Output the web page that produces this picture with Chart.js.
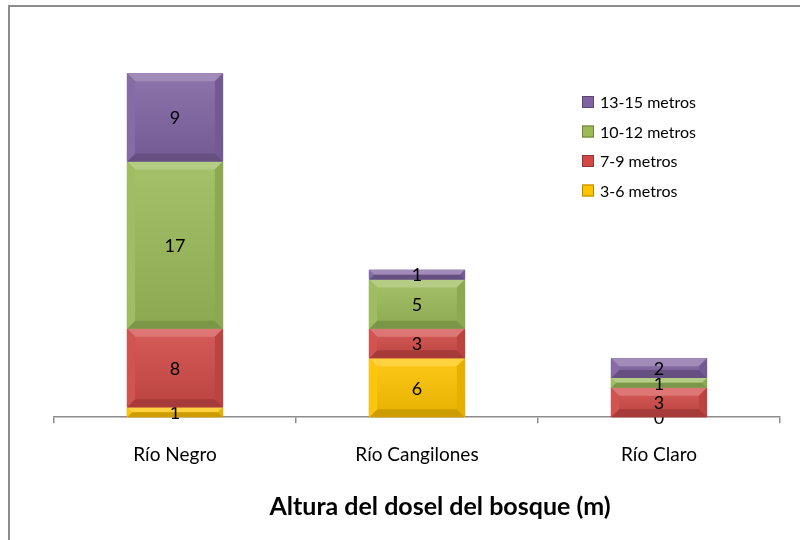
<!DOCTYPE html>
<html>
<head>
<meta charset="utf-8">
<script src="https://cdn.jsdelivr.net/npm/chart.js@4"></script>
<style>
  html, body { margin: 0; padding: 0; background: #fff; }
  #wrap { width: 800px; height: 540px; }
</style>
</head>
<body>
<div id="wrap"><canvas id="alturaChart" width="800" height="540"></canvas></div>
<script>
// Chart data
const categories = ['Río Negro', 'Río Cangilones', 'Río Claro'];
const seriesLabels = ['3-6 metros', '7-9 metros', '10-12 metros', '13-15 metros'];
const altura3a6 = [1, 6, 0];
const altura7a9 = [8, 3, 3];
const altura10a12 = [17, 5, 1];
const altura13a15 = [9, 1, 2];
const axisTitle = 'Altura del dosel del bosque (m)';

const seriesColors = ['#FFC300', '#D04A47', '#9BBB59', '#8064A2'];
const FONT = 'Lato, "Open Sans", sans-serif';

// Shade a hex colour (positive = lighter, negative = darker)
function shade(hex, amt) {
  const n = parseInt(hex.slice(1), 16);
  let r = n >> 16, g = (n >> 8) & 255, b = n & 255;
  const f = c => Math.max(0, Math.min(255, Math.round(amt > 0 ? c + (255 - c) * amt : c * (1 + amt))));
  return `rgb(${f(r)},${f(g)},${f(b)})`;
}

// Bevel effect + value labels on each segment
const segmentPlugin = {
  id: 'segments',
  afterDatasetsDraw(chart) {
    const ctx = chart.ctx;
    chart.data.datasets.forEach((ds, di) => {
      const meta = chart.getDatasetMeta(di);
      meta.data.forEach((bar, i) => {
        const { x, y, base, width } = bar.getProps(['x', 'y', 'base', 'width'], true);
        const l = x - width / 2 + 0.5, r = x + width / 2 - 0.5;
        const h = base - y;
        const b = Math.min(8, h / 2);
        if (h > 1) {
          ctx.save();
          // soft vertical gradient on the face
          const g = ctx.createLinearGradient(0, y, 0, base);
          g.addColorStop(0, shade(ds.baseColor, 0.1));
          g.addColorStop(1, shade(ds.baseColor, -0.1));
          ctx.fillStyle = g;
          ctx.fillRect(l, y, r - l, h);
          ctx.fillStyle = shade(ds.baseColor, 0.25);
          ctx.beginPath();
          ctx.moveTo(l, y); ctx.lineTo(r, y); ctx.lineTo(r - b, y + b); ctx.lineTo(l + b, y + b);
          ctx.closePath(); ctx.fill();
          ctx.fillStyle = shade(ds.baseColor, -0.2);
          ctx.beginPath();
          ctx.moveTo(l, base); ctx.lineTo(r, base); ctx.lineTo(r - b, base - b); ctx.lineTo(l + b, base - b);
          ctx.closePath(); ctx.fill();
          ctx.fillStyle = shade(ds.baseColor, -0.1);
          ctx.beginPath();
          ctx.moveTo(r, y); ctx.lineTo(r, base); ctx.lineTo(r - b, base - b); ctx.lineTo(r - b, y + b);
          ctx.closePath(); ctx.fill();
          ctx.fillStyle = shade(ds.baseColor, 0.05);
          ctx.beginPath();
          ctx.moveTo(l, y); ctx.lineTo(l, base); ctx.lineTo(l + b, base - b); ctx.lineTo(l + b, y + b);
          ctx.closePath(); ctx.fill();
          ctx.restore();
        }
        ctx.save();
        ctx.fillStyle = '#000';
        ctx.font = '18px ' + FONT;
        ctx.textAlign = 'center';
        ctx.textBaseline = 'middle';
        ctx.fillText(String(ds.data[i]), x, (y + base) / 2 + 1);
        ctx.restore();
      });
    });
  },
  afterDraw(chart) {
    const ctx = chart.ctx;
    const area = chart.chartArea;
    ctx.save();
    // outer frame
    ctx.strokeStyle = '#8c8c8c';
    ctx.lineWidth = 2;
    ctx.strokeRect(9, 6, 820, 560);
    // axis title
    ctx.fillStyle = '#000';
    ctx.font = 'bold 25px ' + FONT;
    ctx.textAlign = 'center';
    ctx.textBaseline = 'middle';
    ctx.fillText(axisTitle, (area.left + area.right) / 2 + 23, 507);
    // legend (reverse order)
    ctx.font = '16px ' + FONT;
    ctx.textAlign = 'left';
    const items = chart.data.datasets.slice().reverse();
    items.forEach((ds, k) => {
      const yy = 102 + k * 29.5;
      ctx.fillStyle = ds.baseColor;
      ctx.fillRect(582, yy - 6, 12, 12);
      ctx.strokeStyle = shade(ds.baseColor, -0.3);
      ctx.lineWidth = 1;
      ctx.strokeRect(582.5, yy - 5.5, 11, 11);
      ctx.fillStyle = '#000';
      ctx.fillText(ds.label, 600, yy + 1);
    });
    ctx.restore();
  }
};

const seriesData = [altura3a6, altura7a9, altura10a12, altura13a15];

new Chart(document.getElementById('alturaChart').getContext('2d'), {
  type: 'bar',
  data: {
    labels: categories,
    datasets: seriesData.map((d, i) => ({
      label: seriesLabels[i],
      data: d,
      baseColor: seriesColors[i],
      backgroundColor: seriesColors[i],
      borderColor: shade(seriesColors[i], -0.35),
      borderWidth: 1,
      barPercentage: 0.4,
      categoryPercentage: 1
    }))
  },
  options: {
    responsive: false,
    animation: false,
    layout: { padding: { left: 54, right: 20, top: 24, bottom: 54 } },
    plugins: {
      legend: { display: false },
      tooltip: { enabled: false },
      title: { display: false }
    },
    scales: {
      x: {
        stacked: true,
        grid: { drawOnChartArea: false, drawTicks: true, tickLength: 6, color: '#8c8c8c', lineWidth: 1.5 },
        border: { display: true, color: '#8c8c8c', width: 1.5 },
        ticks: { color: '#000', font: { family: FONT, size: 19 }, padding: 20 }
      },
      y: {
        stacked: true,
        display: false,
        min: 0,
        max: 40
      }
    }
  },
  plugins: [segmentPlugin]
});
</script>
</body>
</html>
